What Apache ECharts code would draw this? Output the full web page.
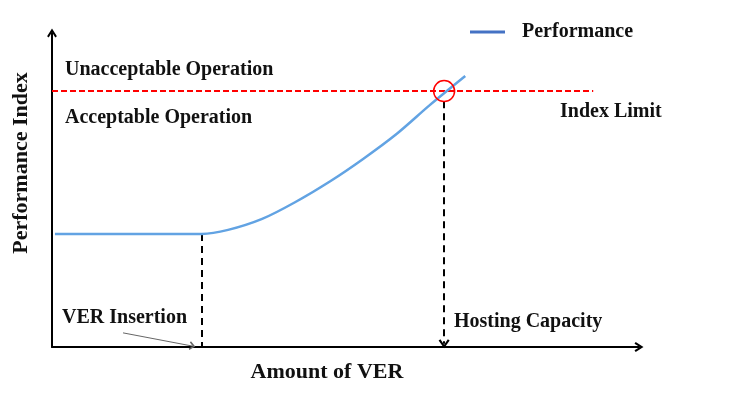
<!DOCTYPE html>
<html>
<head>
<meta charset="utf-8">
<script src="https://cdn.jsdelivr.net/npm/echarts@6/dist/echarts.min.js"></script>
<style>
  html, body { margin: 0; padding: 0; background: #fff; }
  #chart { width: 730px; height: 398px; }
</style>
</head>
<body>
<div id="chart"></div>
<script>
// performance curve (x = amount of VER, y = index)
const perfX = [0.5, 25.5, 30.0, 35.8, 41.4, 47.4, 53.0, 58.8, 64.4, 70.4]
const perfY = [36.0, 36.0, 37.3, 40.8, 46.1, 52.8, 59.9, 68.0, 77.1, 86.3]

const indexLimit = 81.5 // red dashed line
const limitEnd = 92.2 // where the red line stops
const insertionX = 25.5 // VER insertion
const capacityX = 66.8 // hosting capacity
const capacityTop = 78.3 // dashed drop starts just under the circle
const pointerFrom = [12.1, 4.5] // grey pointer from the "VER Insertion" text
const pointerTo = [23.9, 0.3]

const serif = 'bold 20px "Liberation Serif", "DejaVu Serif", serif'
const bigSerif = 'bold 22px "Liberation Serif", "DejaVu Serif", serif'
// open arrow head, pointing up
const chevron = 'path://M0,8 L5,0 L10,8 L8.4,9.2 L5,3.8 L1.6,9.2 Z'

const myChart = echarts.init(document.querySelector('#chart'))

const option = {
    animation: false,
    backgroundColor: '#fff',
    grid: { left: 52, right: 91, top: 33, bottom: 51 },
    legend: {
        left: 465,
        top: 17,
        itemWidth: 35,
        itemHeight: 3,
        textStyle: { fontFamily: '"Liberation Serif", serif', fontWeight: 'bold', fontSize: 20, color: '#111', padding: [0, 0, 0, 12] },
        data: [{ name: 'Performance', icon: 'rect', itemStyle: { color: '#4472c4' } }]
    },
    xAxis: {
        type: 'value',
        min: 0,
        max: 100,
        axisLine: { lineStyle: { color: '#000', width: 2 }, symbol: ['none', chevron], symbolSize: [11, 9] },
        axisTick: { show: false },
        axisLabel: { show: false },
        splitLine: { show: false }
    },
    yAxis: {
        type: 'value',
        min: 0,
        max: 100,
        axisLine: { show: true, lineStyle: { color: '#000', width: 2 }, symbol: ['none', chevron], symbolSize: [11, 9] },
        axisTick: { show: false },
        axisLabel: { show: false },
        splitLine: { show: false }
    },
    series: [
        {
            name: 'Performance',
            type: 'line',
            data: perfX.map((x, i) => [x, perfY[i]]),
            smooth: 0.3,
            symbol: 'none',
            lineStyle: { color: '#62a3e3', width: 2.5 },
            itemStyle: { color: '#4472c4' },
            z: 5
        },
        {
            name: 'limit',
            type: 'line',
            data: [],
            markLine: {
                silent: true,
                symbol: 'none',
                label: { show: false },
                lineStyle: { color: '#ff0000', type: [6, 3], width: 2 },
                data: [[{ coord: [0, indexLimit] }, { coord: [limitEnd, indexLimit] }]]
            }
        },
        {
            name: 'drops',
            type: 'line',
            data: [],
            markLine: {
                silent: true,
                label: { show: false },
                lineStyle: { color: '#000', type: [7, 5], width: 2 },
                data: [
                    [{ coord: [insertionX, perfY[1]], symbol: 'none' }, { coord: [insertionX, 0], symbol: 'none' }],
                    [{ coord: [capacityX, capacityTop], symbol: 'none' }, { coord: [capacityX, 1], symbol: chevron, symbolSize: [11, 9] }]
                ]
            }
        },
        {
            name: 'pointer',
            type: 'line',
            data: [],
            markLine: {
                silent: true,
                label: { show: false },
                lineStyle: { color: '#666', type: 'solid', width: 1 },
                data: [[{ coord: pointerFrom, symbol: 'none' }, { coord: pointerTo, symbol: chevron, symbolSize: [9, 6] }]]
            }
        },
        {
            name: 'limitPoint',
            type: 'scatter',
            data: [[capacityX, indexLimit]],
            symbol: 'circle',
            symbolSize: 21,
            itemStyle: { color: 'rgba(0,0,0,0)', borderColor: '#ff0000', borderWidth: 1.5, opacity: 1 },
            z: 6
        }
    ],
    graphic: [
        { type: 'text', x: 65, y: 70, style: { text: 'Unacceptable Operation', font: serif, fill: '#111', verticalAlign: 'middle' } },
        { type: 'text', x: 65, y: 118, style: { text: 'Acceptable Operation', font: serif, fill: '#111', verticalAlign: 'middle' } },
        { type: 'text', x: 560, y: 112, style: { text: 'Index Limit', font: serif, fill: '#111', verticalAlign: 'middle' } },
        { type: 'text', x: 62, y: 318, style: { text: 'VER Insertion', font: serif, fill: '#111', verticalAlign: 'middle' } },
        { type: 'text', x: 454, y: 322, style: { text: 'Hosting Capacity', font: serif, fill: '#111', verticalAlign: 'middle' } },
        { type: 'text', x: 327, y: 372, style: { text: 'Amount of VER', font: bigSerif, fill: '#111', align: 'center', verticalAlign: 'middle' } },
        { type: 'text', x: 21, y: 163, rotation: Math.PI / 2, style: { text: 'Performance Index', font: bigSerif, fill: '#111', align: 'center', verticalAlign: 'middle' } }
    ]
}
myChart.setOption(option)
</script>
</body>
</html>
